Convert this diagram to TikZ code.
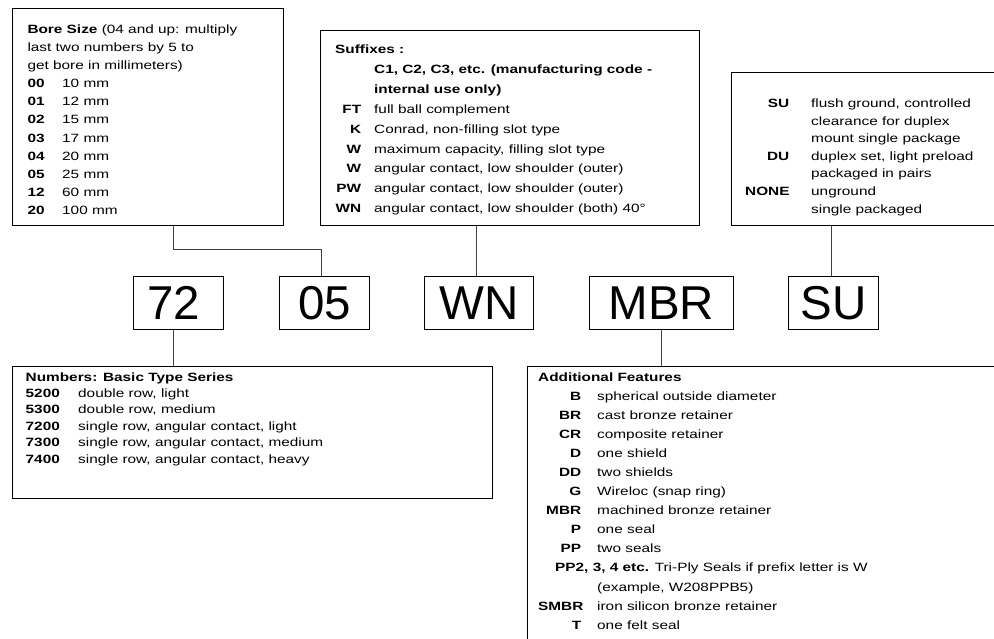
\documentclass[tikz,border=0pt]{standalone}
\usepackage{fontspec}
\setmainfont[FakeStretch=1.28]{Liberation Sans}
\newfontfamily\bigfont{Liberation Sans}
\usepackage{array}
\newcolumntype{R}[1]{>{\raggedleft\arraybackslash}p{#1}}
\newcolumntype{L}[1]{>{\raggedright\arraybackslash}p{#1}}
\begin{document}
\begin{tikzpicture}[x=1pt,y=-1pt,
  frame/.style={draw=black, line width=0.9pt, inner sep=0pt, anchor=north west},
  codebox/.style={frame, font=\bigfont\fontsize{47.5}{50}\selectfont, minimum height=53pt},
  wire/.style={draw=black!75, line width=0.9pt},
  txt/.style={anchor=base west, inner sep=0pt, font=\fontsize{12}{#1}\selectfont}]
\useasboundingbox (0,0) rectangle (994,639);
\fill[white] (0,0) rectangle (994,639);
\clip (0,0) rectangle (994,639);

% frames
\node[frame, minimum width=271pt, minimum height=217pt] (bore) at (12,8) {};
\node[frame, minimum width=379pt, minimum height=195pt] (suf) at (320,30) {};
\node[frame, minimum width=290pt, minimum height=153pt] (sun) at (731,72) {};
\node[frame, minimum width=480pt, minimum height=132pt] (num) at (12,366) {};
\node[frame, minimum width=490pt, minimum height=300pt] (add) at (527,366) {};

% code boxes
\node[codebox, minimum width=90pt] (b72) at (133,276) {\kern-10pt 72};
\node[codebox, minimum width=90pt] (b05) at (279,276) {05};
\node[codebox, minimum width=109pt] (bWN) at (424,276) {WN};
\node[codebox, minimum width=144pt] (bMBR) at (589,276) {MBR};
\node[codebox, minimum width=90pt] (bSU) at (788,276) {SU};

% connectors
\coordinate (j1) at (173,249);
\coordinate (c05) at ([xshift=-3pt]b05.north);
\coordinate (cWN) at ([xshift=-3pt]bWN.north);
\coordinate (cSU) at ([xshift=-2pt]bSU.north);
\coordinate (c72) at ([xshift=-5pt]b72.south);
\draw[wire] (bore.south -| j1) -- (j1) -| (c05);
\draw[wire] (cWN) -- (cWN |- suf.south);
\draw[wire] (cSU) -- (cSU |- sun.south);
\draw[wire] (c72) -- (c72 |- num.north);
\draw[wire] (bMBR.south) -- (bMBR.south |- add.north);

% texts
\node[txt=18.07] (boretxt) at (27.3,33.6) {\begin{tabular}[t]{@{}L{34.7pt}@{}l@{}}
\multicolumn{2}{@{}l@{}}{\textbf{Bore Size} (04 and up: multiply}\\
\multicolumn{2}{@{}l@{}}{last two numbers by 5 to}\\
\multicolumn{2}{@{}l@{}}{get bore in millimeters)}\\
\textbf{00} & 10 mm\\
\textbf{01} & 12 mm\\
\textbf{02} & 15 mm\\
\textbf{03} & 17 mm\\
\textbf{04} & 20 mm\\
\textbf{05} & 25 mm\\
\textbf{12} & 60 mm\\
\textbf{20} & 100 mm
\end{tabular}};

\node[txt=19.9] (suftxt) at (335,53.6) {\begin{tabular}[t]{@{}R{26pt}@{\hspace{13pt}}l@{}}
\multicolumn{2}{@{}l@{}}{\textbf{Suffixes :}}\\
 & \textbf{C1, C2, C3, etc. (manufacturing code -}\\
 & \textbf{internal use only)}\\
\textbf{FT} & full ball complement\\
\textbf{K} & Conrad, non-filling slot type\\
\textbf{W} & maximum capacity, filling slot type\\
\textbf{W} & angular contact, low shoulder (outer)\\
\textbf{PW} & angular contact, low shoulder (outer)\\
\textbf{WN} & angular contact, low shoulder (both) 40°
\end{tabular}};

\node[txt=17.6] (suntxt) at (745,107.6) {\begin{tabular}[t]{@{}R{44pt}@{\hspace{22pt}}l@{}}
\textbf{SU} & flush ground, controlled\\
 & clearance for duplex\\
 & mount single package\\
\textbf{DU} & duplex set, light preload\\
 & packaged in pairs\\
\textbf{NONE} & unground\\
 & single packaged
\end{tabular}};

\node[txt=16.4] (numtxt) at (25.5,381) {\begin{tabular}[t]{@{}L{52.5pt}@{}l@{}}
\multicolumn{2}{@{}l@{}}{\textbf{Numbers: Basic Type Series}}\\
\textbf{5200} & double row, light\\
\textbf{5300} & double row, medium\\
\textbf{7200} & single row, angular contact, light\\
\textbf{7300} & single row, angular contact, medium\\
\textbf{7400} & single row, angular contact, heavy
\end{tabular}};

\node[txt=19.1] (addtxt) at (538,381) {\begin{tabular}[t]{@{}R{43pt}@{\hspace{16pt}}l@{}}
\multicolumn{2}{@{}l@{}}{\textbf{Additional Features}}\\
\textbf{B} & spherical outside diameter\\
\textbf{BR} & cast bronze retainer\\
\textbf{CR} & composite retainer\\
\textbf{D} & one shield\\
\textbf{DD} & two shields\\
\textbf{G} & Wireloc (snap ring)\\
\textbf{MBR} & machined bronze retainer\\
\textbf{P} & one seal\\
\textbf{PP} & two seals\\
\multicolumn{2}{@{\hspace{17pt}}l@{}}{\textbf{PP2, 3, 4 etc.} Tri-Ply Seals if prefix letter is W}\\
 & (example, W208PPB5)\\
\textbf{SMBR} & iron silicon bronze retainer\\
\textbf{T} & one felt seal
\end{tabular}};
\end{tikzpicture}
\end{document}
